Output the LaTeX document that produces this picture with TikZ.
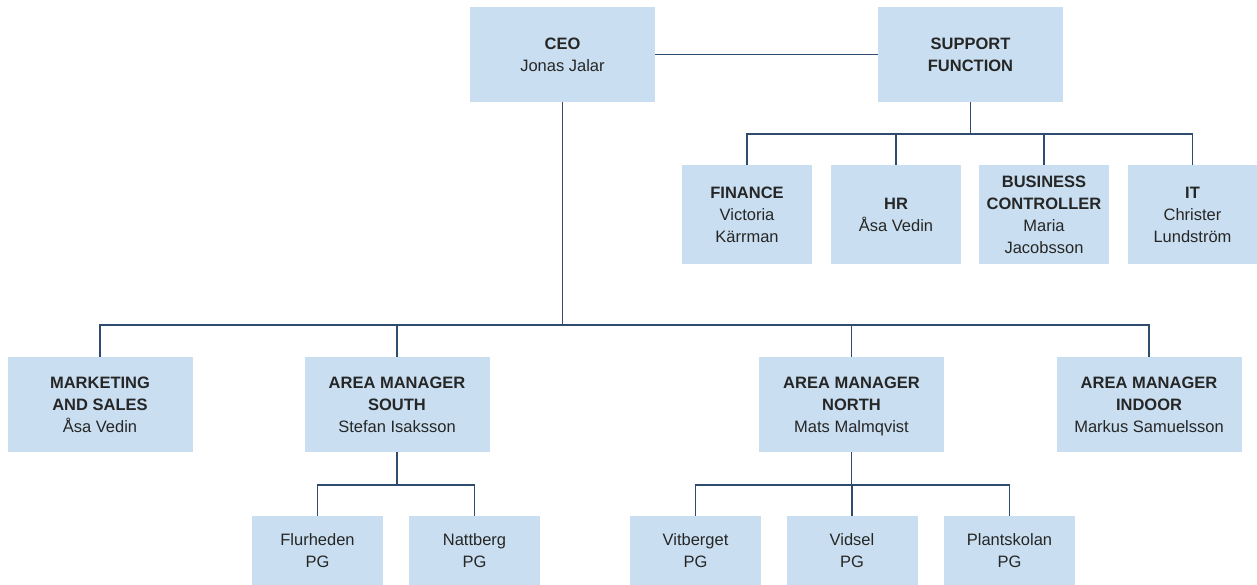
\documentclass[tikz,border=0pt]{standalone}
\usepackage{fontspec}
\setmainfont{Liberation Sans}
\definecolor{boxblue}{HTML}{C9DFF1}
\definecolor{linkblue}{HTML}{2F4B6E}
\tikzset{
  unit/.style = {fill = boxblue, text = black!85, align = center, inner sep = 0pt,
    font = \fontsize{16.5}{22}\selectfont, text depth = -4pt},
  wide/.style = {unit, minimum width = 185pt, minimum height = 95pt},
  small/.style = {unit, minimum width = 130pt, minimum height = 99pt},
  pg/.style = {unit, minimum width = 131pt, minimum height = 70pt},
  link/.style = {draw = linkblue, line width = 1.8pt}
}
\begin{document}
\begin{tikzpicture}
      [x = 1pt, y = -1pt]
      \useasboundingbox (0,0) rectangle (1257,584);
      \node[wide] (ceo) at (562.5,54.5) {\textbf{CEO}\\Jonas Jalar};
      \node[wide] (sup) at (970.5,54.5) {\textbf{SUPPORT}\\\textbf{FUNCTION}};
      \node[small] (fin) at (747,214.5) {\textbf{FINANCE}\\Victoria\\Kärrman};
      \node[small] (hr) at (896,214.5) {\textbf{HR}\\Åsa Vedin};
      \node[small] (bc) at (1044,214.5) {\textbf{BUSINESS}\\\textbf{CONTROLLER}\\Maria\\Jacobsson};
      \node[small] (it) at (1192.5,214.5) {\textbf{IT}\\Christer\\Lundström};
      \node[wide] (mkt) at (100,404.5) {\textbf{MARKETING}\\\textbf{AND SALES}\\Åsa Vedin};
      \node[wide] (south) at (397,404.5) {\textbf{AREA MANAGER}\\\textbf{SOUTH}\\Stefan Isaksson};
      \node[wide] (north) at (851.5,404.5) {\textbf{AREA MANAGER}\\\textbf{NORTH}\\Mats Malmqvist};
      \node[wide] (indoor) at (1149,404.5) {\textbf{AREA MANAGER}\\\textbf{INDOOR}\\Markus Samuelsson};
      \node[pg] (flu) at (317.5,551) {Flurheden\\PG};
      \node[pg] (nat) at (474.5,551) {Nattberg\\PG};
      \node[pg] (vit) at (695.5,551) {Vitberget\\PG};
      \node[pg] (vid) at (852,551) {Vidsel\\PG};
      \node[pg] (pla) at (1009.5,551) {Plantskolan\\PG};
      \draw[link] (ceo) -- (sup);
      \foreach \kid in {fin,hr,bc,it}
        \draw[link] (sup.south) -- ++(0,32) -| (\kid.north);
      \foreach \kid in {mkt,south,north,indoor}
        \draw[link] (ceo.south) -- ++(0,223) -| (\kid.north);
      \foreach \kid in {flu,nat}
        \draw[link] (south.south) -- ++(0,33) -| (\kid.north);
      \foreach \kid in {vit,vid,pla}
        \draw[link] (north.south) -- ++(0,33) -| (\kid.north);
    \end{tikzpicture}
\end{document}
